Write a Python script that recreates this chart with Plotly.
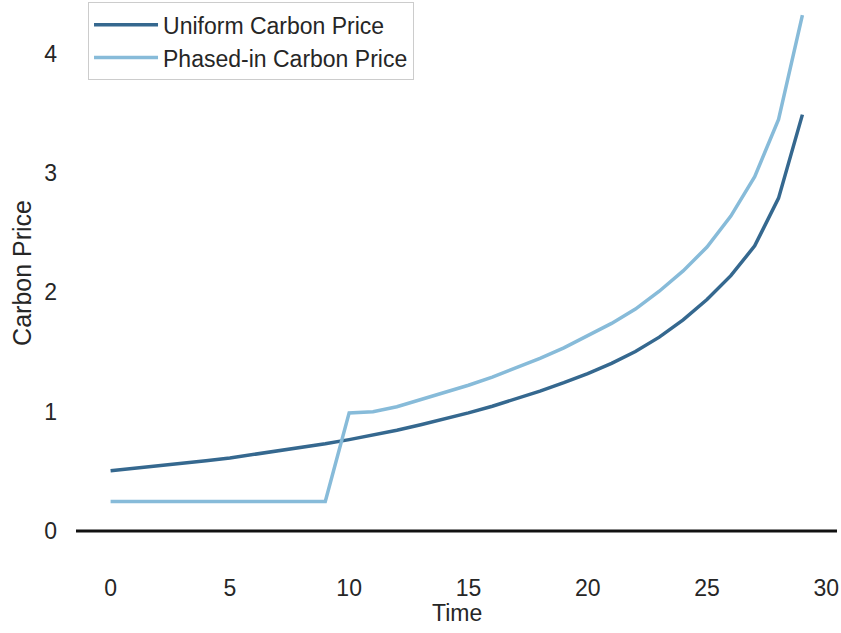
import plotly.graph_objects as go

time = list(range(30))
uniform_price = [0.505, 0.524, 0.544, 0.565, 0.588, 0.612, 0.641, 0.670, 0.700, 0.731,
                 0.766, 0.803, 0.844, 0.890, 0.938, 0.990, 1.046, 1.106, 1.172, 1.243,
                 1.320, 1.405, 1.505, 1.625, 1.770, 1.940, 2.140, 2.390, 2.790, 3.490]
phased_price = [0.248, 0.248, 0.248, 0.248, 0.248, 0.248, 0.248, 0.248, 0.248, 0.248,
                0.990, 1.000, 1.042, 1.100, 1.160, 1.222, 1.290, 1.365, 1.447, 1.535,
                1.640, 1.740, 1.860, 2.010, 2.180, 2.380, 2.640, 2.970, 3.450, 4.325]
x_ticks = [0, 5, 10, 15, 20, 25, 30]
y_ticks = [0, 1, 2, 3, 4]

TXT = "#262626"
FONT = "Liberation Sans, Arial, sans-serif"
FS = 23

fig = go.Figure()
fig.add_trace(go.Scatter(x=time, y=uniform_price, mode="lines", name="Uniform Carbon Price",
                         line=dict(color="#35688f", width=3.5)))
fig.add_trace(go.Scatter(x=time, y=phased_price, mode="lines", name="Phased-in Carbon Price",
                         line=dict(color="#87bbd9", width=3.5)))

fig.add_shape(type="line", xref="paper", x0=0, x1=1, yref="y", y0=0, y1=0,
              line=dict(color="#111111", width=3), layer="below")

fig.add_annotation(text="Time", xref="paper", yref="paper", x=0.5, y=-0.1,
                   xanchor="center", yanchor="middle", showarrow=False,
                   font=dict(size=FS, color=TXT))
fig.add_annotation(text="Carbon Price", xref="paper", yref="paper", x=-0.071, y=0.51,
                   xanchor="center", yanchor="middle", textangle=-90, showarrow=False,
                   font=dict(size=25, color=TXT))

fig.update_layout(
    width=841, height=633,
    margin=dict(l=76, r=4, t=0, b=76),
    paper_bgcolor="white", plot_bgcolor="white",
    font=dict(family=FONT, size=FS, color=TXT),
    showlegend=True,
    legend=dict(x=0.0158, y=0.996, xanchor="left", yanchor="top", itemwidth=64,
                bgcolor="rgba(255,255,255,0.8)", bordercolor="#cccccc", borderwidth=1,
                font=dict(size=FS, color=TXT)),
    xaxis=dict(range=[-1.45, 30.45], tickvals=x_ticks, showgrid=False, zeroline=False,
               showline=False, ticks="", ticklabelstandoff=15, automargin=False),
    yaxis=dict(range=[-0.218, 4.451], tickvals=y_ticks, showgrid=False, zeroline=False,
               showline=False, ticks="", ticklabelstandoff=18, automargin=False),
)

fig.write_html("out.html", config={"displayModeBar": False},
               post_script="document.body.style.margin='0';document.body.style.overflow='hidden';")
